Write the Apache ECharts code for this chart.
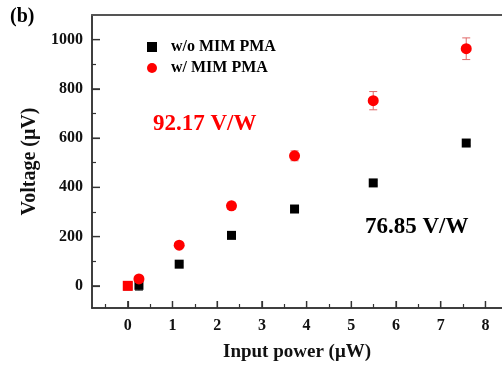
<!DOCTYPE html>
<html>
<head>
<meta charset="utf-8">
<script src="https://cdn.jsdelivr.net/npm/echarts@6/dist/echarts.min.js"></script>
<style>
  html, body { margin: 0; padding: 0; background: #fff; }
  #chart { width: 502px; height: 367px; }
</style>
</head>
<body>
<div id="chart"></div>
<script>
// Input power (uW) for each measurement
const power = [0, 0.25, 1.15, 2.32, 3.73, 5.49, 7.57];
// Photovoltage (uV) without / with the MIM PMA
const voltWithout = [0, 2, 88, 205, 312, 418, 580];
const voltWith = [0, 28, 165, 325, 528, 752, 963];
// Error bar half-widths (uV)
const errWithout = [0, 20, 8, 8, 8, 10, 10];
const errWith = [0, 8, 10, 15, 20, 37, 44];

// Tick values
const xMajor = [0, 1, 2, 3, 4, 5, 6, 7, 8];
const xMinor = [-0.5, 0.5, 1.5, 2.5, 3.5, 4.5, 5.5, 6.5, 7.5];
const yMajor = [0, 200, 400, 600, 800, 1000];
const yMinor = [100, 300, 500, 700, 900];

const seriesNames = ['w/o MIM PMA', 'w/ MIM PMA'];
const slopeLabels = ['92.17 V/W', '76.85 V/W'];

const FONT = '"Liberation Serif", "DejaVu Serif", serif';
const AXIS_COLOR = '#333';
const X_RANGE = { min: -0.8, max: 8.37 };
const Y_RANGE = { min: -90, max: 1100 };
const PLOT_RECT = { left: 92, top: 15, bottom: 59, right: 0, containLabel: false };

const chart = echarts.init(document.getElementById('chart'), null, { renderer: 'canvas' });

function pairs(xs, ys) { return xs.map((x, i) => [x, ys[i]]); }
function errRows(xs, ys, es) { return xs.map((x, i) => [x, ys[i] - es[i], ys[i] + es[i]]); }

function errorBarRenderer(color) {
  return function (params, api) {
    const x = api.value(0);
    const lo = api.coord([x, api.value(1)]);
    const hi = api.coord([x, api.value(2)]);
    const cap = 4;
    const style = { stroke: color, lineWidth: 1 };
    return {
      type: 'group',
      children: [
        { type: 'line', shape: { x1: lo[0], y1: lo[1], x2: hi[0], y2: hi[1] }, style },
        { type: 'line', shape: { x1: lo[0] - cap, y1: lo[1], x2: lo[0] + cap, y2: lo[1] }, style },
        { type: 'line', shape: { x1: hi[0] - cap, y1: hi[1], x2: hi[0] + cap, y2: hi[1] }, style }
      ]
    };
  };
}

// Major tick marks: thin bars anchored on the axis lines, pointing into the plot
function majorTickMarks(dir, values, length) {
  const onX = dir === 'x';
  return {
    type: 'scatter', name: 'ticks-' + dir, xAxisIndex: 0, yAxisIndex: 0, z: 6,
    clip: false, silent: true, legendHoverLink: false,
    symbol: 'rect',
    symbolSize: onX ? [1.3, length] : [length, 1.3],
    symbolOffset: onX ? [0, -length / 2] : [length / 2, 0],
    itemStyle: { color: AXIS_COLOR, opacity: 1 },
    emphasis: { disabled: true },
    data: onX ? values.map(v => [v, Y_RANGE.min]) : values.map(v => [X_RANGE.min, v])
  };
}

const labelStyle = { fontFamily: FONT, fontWeight: 'bold', fontSize: 16, color: '#111' };
const nameStyle = { fontFamily: FONT, fontWeight: 'bold', fontSize: 19, color: '#111' };

function axisLineOpt() {
  return { show: true, onZero: false, lineStyle: { color: AXIS_COLOR, width: 1.5 } };
}

// Minor-tick axis on its own grid laid over the same rectangle
function tickAxis(range, position, values, length, gridIndex) {
  return Object.assign({ type: 'value', position, gridIndex }, range, {
    splitLine: { show: false },
    axisLine: axisLineOpt(),
    axisTick: { show: true, inside: true, length, customValues: values.slice(), lineStyle: { color: AXIS_COLOR, width: 1.2 } },
    axisLabel: { show: false, customValues: values.slice() }
  });
}

const withData = pairs(power, voltWith).map((p, i) =>
  i === 0 ? { value: p, symbol: 'rect', symbolSize: 10 } : p
);

const option = {
  animation: false,
  backgroundColor: '#fff',
  tooltip: { show: false },
  grid: [Object.assign({}, PLOT_RECT), Object.assign({}, PLOT_RECT)],
  legend: {
    orient: 'vertical',
    left: 142,
    top: 34,
    itemWidth: 10,
    itemHeight: 10,
    itemGap: 5,
    data: [
      { name: seriesNames[0], icon: 'rect' },
      { name: seriesNames[1], icon: 'circle' }
    ],
    textStyle: { fontFamily: FONT, fontWeight: 'bold', fontSize: 16, color: '#000', padding: [0, 0, 0, 9] }
  },
  xAxis: [
    Object.assign({ type: 'value', position: 'bottom', gridIndex: 0 }, X_RANGE, {
      splitLine: { show: false },
      axisLine: axisLineOpt(),
      axisTick: { show: true, inside: true, length: 7, customValues: xMajor.slice(), lineStyle: { color: AXIS_COLOR, width: 1.2 } },
      axisLabel: Object.assign({ customValues: xMajor.slice(), margin: 10, formatter: v => String(v) }, labelStyle),
      name: 'Input power (\u03bcW)', nameLocation: 'middle', nameGap: 35,
      nameTextStyle: nameStyle
    }),
    Object.assign({ type: 'value', position: 'top', gridIndex: 0 }, X_RANGE, {
      splitLine: { show: false },
      axisLine: { show: true, onZero: false, lineStyle: { color: '#555', width: 2 } },
      axisTick: { show: false },
      axisLabel: { show: false }
    }),
    tickAxis(X_RANGE, 'bottom', xMinor, 4, 1)
  ],
  yAxis: [
    Object.assign({ type: 'value', position: 'left', gridIndex: 0 }, Y_RANGE, {
      splitLine: { show: false },
      axisLine: axisLineOpt(),
      axisTick: { show: true, inside: true, length: 8, customValues: yMajor.slice(), lineStyle: { color: AXIS_COLOR, width: 1.2 } },
      axisLabel: Object.assign({ customValues: yMajor.slice(), margin: 9, formatter: v => String(v) }, labelStyle),
      name: 'Voltage (\u03bcV)', nameLocation: 'middle', nameGap: 39,
      nameTextStyle: Object.assign({}, nameStyle, { fontSize: 20 })
    }),
    tickAxis(Y_RANGE, 'left', yMinor, 4, 1)
  ],
  series: [
    majorTickMarks('x', xMajor, 7),
    majorTickMarks('y', yMajor, 8),
    {
      type: 'custom', name: 'err-without', xAxisIndex: 0, yAxisIndex: 0, z: 1,
      renderItem: errorBarRenderer('#444'),
      encode: { x: 0, y: [1, 2] },
      data: errRows(power, voltWithout, errWithout)
    },
    {
      type: 'custom', name: 'err-with', xAxisIndex: 0, yAxisIndex: 0, z: 1,
      renderItem: errorBarRenderer('#e06868'),
      encode: { x: 0, y: [1, 2] },
      data: errRows(power, voltWith, errWith)
    },
    {
      type: 'scatter', name: seriesNames[0], xAxisIndex: 0, yAxisIndex: 0, z: 3,
      symbol: 'rect', symbolSize: 9,
      itemStyle: { color: '#000', opacity: 1 },
      data: pairs(power, voltWithout)
    },
    {
      type: 'scatter', name: seriesNames[1], xAxisIndex: 0, yAxisIndex: 0, z: 4,
      symbol: 'circle', symbolSize: 11,
      itemStyle: { color: '#f00', opacity: 1 },
      data: withData
    }
  ],
  graphic: [
    { type: 'text', left: 10, top: 7, style: { text: '(b)', fontFamily: FONT, fontWeight: 'bold', fontSize: 20, fill: '#000' } },
    { type: 'text', left: 153, top: 113, style: { text: slopeLabels[0], fontFamily: FONT, fontWeight: 'bold', fontSize: 23, fill: '#f00' } },
    { type: 'text', left: 365, top: 216, style: { text: slopeLabels[1], fontFamily: FONT, fontWeight: 'bold', fontSize: 23, fill: '#000' } }
  ]
};

chart.setOption(option);
</script>
</body>
</html>
